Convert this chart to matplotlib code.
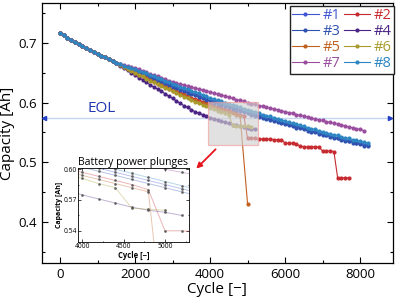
import numpy as np
import matplotlib
matplotlib.use("Agg")
import matplotlib.pyplot as plt
from matplotlib.patches import Rectangle

plt.rcParams['font.family'] = ['Open Sans', 'DejaVu Sans']

# ---------------- data (capacity in Ah, one point every 100 cycles) ----------------
CYCLE_STEP = 100

COMMON = [0.717, 0.713, 0.709, 0.705, 0.701, 0.698, 0.695, 0.691, 0.688, 0.685,
          0.682, 0.679, 0.676, 0.673, 0.670, 0.667]

S1_TAIL = [0.664, 0.661, 0.659, 0.656, 0.654, 0.651, 0.649, 0.646, 0.644, 0.641,
           0.639, 0.636, 0.634, 0.631, 0.629, 0.626, 0.624, 0.622, 0.619, 0.617,
           0.615, 0.612, 0.610, 0.608, 0.605, 0.603, 0.601, 0.599, 0.597, 0.595,
           0.593, 0.591, 0.589, 0.587, 0.585, 0.583, 0.581, 0.579, 0.577, 0.575,
           0.573, 0.572, 0.570, 0.568, 0.566, 0.564, 0.562, 0.561, 0.559, 0.557,
           0.555, 0.553, 0.552, 0.550, 0.548, 0.546, 0.545, 0.543, 0.541, 0.540,
           0.538, 0.536, 0.535, 0.533, 0.532, 0.530, 0.529]

S2_TAIL = [0.663, 0.660, 0.657, 0.654, 0.651, 0.648, 0.645, 0.642, 0.639, 0.636,
           0.633, 0.630, 0.628, 0.625, 0.622, 0.619, 0.617, 0.614, 0.611, 0.608,
           0.606, 0.604, 0.601, 0.599, 0.597, 0.595, 0.593, 0.591, 0.589, 0.587,
           0.585, 0.582, 0.580, 0.578,
           0.540, 0.540, 0.540, 0.539, 0.539, 0.539, 0.539, 0.538, 0.538, 0.538,
           0.532, 0.532, 0.532, 0.531,
           0.527, 0.526, 0.526, 0.526, 0.526, 0.525,
           0.519, 0.519, 0.519, 0.518,
           0.474, 0.474, 0.474, 0.474]

S3_TAIL = [0.663, 0.660, 0.658, 0.655, 0.652, 0.650, 0.647, 0.644, 0.642, 0.639,
           0.636, 0.634, 0.631, 0.629, 0.626, 0.624, 0.621, 0.619, 0.616, 0.614,
           0.612, 0.609, 0.607, 0.605, 0.602, 0.600, 0.598, 0.596, 0.594, 0.592,
           0.590, 0.588, 0.586, 0.584, 0.582, 0.580, 0.578, 0.576, 0.574, 0.573,
           0.571, 0.569, 0.567, 0.565, 0.564, 0.562, 0.560, 0.558, 0.557, 0.555,
           0.553, 0.551, 0.550, 0.548, 0.546, 0.545, 0.543, 0.541, 0.540, 0.538,
           0.536, 0.535, 0.533, 0.532, 0.530, 0.528, 0.527]

S4_TAIL = [0.661, 0.658, 0.654, 0.650, 0.646, 0.642, 0.638, 0.634, 0.630, 0.626,
           0.623, 0.619, 0.615, 0.611, 0.607, 0.603, 0.599, 0.595, 0.592, 0.588,
           0.585, 0.582, 0.580, 0.577, 0.575, 0.573, 0.571, 0.569, 0.567, 0.565,
           0.563, 0.562, 0.560, 0.559, 0.558, 0.556, 0.555]

S5_TAIL = [0.663, 0.660, 0.657, 0.654, 0.650, 0.647, 0.644, 0.641, 0.638, 0.635,
           0.632, 0.629, 0.626, 0.623, 0.620, 0.617, 0.614, 0.612, 0.609, 0.606,
           0.604, 0.601, 0.599, 0.597, 0.594, 0.592, 0.590, 0.588, 0.586, 0.584,
           0.582, 0.580, 0.578]
S5_PLUNGE_CYCLE = 5000
S5_PLUNGE_VALUE = 0.430

S6_TAIL = [0.663, 0.660, 0.657, 0.653, 0.650, 0.647, 0.644, 0.640, 0.637, 0.634,
           0.631, 0.628, 0.625, 0.622, 0.619, 0.616, 0.613, 0.610, 0.607, 0.604,
           0.601, 0.599, 0.596, 0.594, 0.591, 0.589, 0.586, 0.584, 0.582, 0.579,
           0.562, 0.561, 0.561, 0.560, 0.560, 0.559]

S7_TAIL = [0.665, 0.663, 0.661, 0.660, 0.658, 0.656, 0.653, 0.651, 0.648, 0.646,
           0.644, 0.642, 0.639, 0.637, 0.635, 0.633, 0.631, 0.630, 0.628, 0.626,
           0.624, 0.623, 0.621, 0.620, 0.618, 0.616, 0.614, 0.613, 0.611, 0.609,
           0.607, 0.605, 0.604, 0.602, 0.600, 0.598, 0.597, 0.595, 0.594, 0.592,
           0.591, 0.589, 0.588, 0.586, 0.585, 0.583, 0.582, 0.580, 0.579, 0.577,
           0.576, 0.574, 0.573, 0.571, 0.570, 0.568, 0.567, 0.565, 0.564, 0.562,
           0.561, 0.559, 0.558, 0.556, 0.555, 0.553]

S8_TAIL = [0.664, 0.662, 0.660, 0.658, 0.656, 0.653, 0.651, 0.649, 0.646, 0.644,
           0.642, 0.639, 0.637, 0.634, 0.632, 0.630, 0.627, 0.625, 0.623, 0.620,
           0.618, 0.616, 0.613, 0.611, 0.608, 0.606, 0.604, 0.602, 0.600, 0.598,
           0.596, 0.594, 0.592, 0.590, 0.588, 0.586, 0.584, 0.582, 0.580, 0.578,
           0.577, 0.575, 0.573, 0.571, 0.569, 0.567, 0.565, 0.564, 0.562, 0.560,
           0.558, 0.556, 0.555, 0.553, 0.551, 0.549, 0.548, 0.546, 0.545, 0.543,
           0.541, 0.540, 0.538, 0.537, 0.535, 0.534, 0.532]

LABELS = ['#1', '#2', '#3', '#4', '#5', '#6', '#7', '#8']
COLORS = ['#3f55d2', '#c62a2f', '#2f52b0', '#4a2384', '#c0601f', '#a99a2c', '#9a4d9e', '#2c86c2']
EOL_CAPACITY = 0.575
EOL_LABEL = 'EOL'

MAIN_XLIM = (-490, 8870)
MAIN_YLIM = (0.331, 0.767)
INSET_XLIM = (3950, 5290)
INSET_YLIM = (0.529, 0.601)

# ---------------- build series ----------------
tails = [S1_TAIL, S2_TAIL, S3_TAIL, S4_TAIL, S5_TAIL, S6_TAIL, S7_TAIL, S8_TAIL]
series = []
for i, tail in enumerate(tails):
    vals = np.array(COMMON + tail)
    cyc = np.arange(len(vals)) * CYCLE_STEP
    if LABELS[i] == '#5':
        cyc = np.append(cyc, S5_PLUNGE_CYCLE)
        vals = np.append(vals, S5_PLUNGE_VALUE)
    series.append((cyc, vals))

fig = plt.figure(figsize=(4.0, 3.03), dpi=100)
ax = fig.add_axes([0.104, 0.132, 0.878, 0.858])

handles = {}
for (cyc, vals), lab, col in zip(series, LABELS, COLORS):
    h, = ax.plot(cyc, vals, '-', color=col, lw=0.8, marker='o', ms=2.0,
                 mec=col, mfc=col, zorder=3)
    handles[lab] = h

ax.set_xlim(*MAIN_XLIM)
ax.set_ylim(*MAIN_YLIM)
ax.set_xticks([0, 2000, 4000, 6000, 8000])
ax.set_xticks(np.arange(1000, 8001, 2000), minor=True)
ax.set_yticks([0.4, 0.5, 0.6, 0.7])
ax.set_yticks([0.35, 0.45, 0.55, 0.65, 0.75], minor=True)
ax.set_yticklabels(['0.4', '0.5', '0.6', '0.7'])
ax.tick_params(which='both', direction='in', top=True, right=True, labelsize=9.5)
ax.tick_params(which='major', length=4, width=0.8)
ax.tick_params(which='minor', length=2, width=0.8)
for s in ax.spines.values():
    s.set_linewidth(0.9)
ax.set_xlabel('Cycle [\u2212]', fontsize=11, labelpad=1)
ax.set_ylabel('Capacity [Ah]', fontsize=11, labelpad=2)

# EOL line with arrows
ax.axhline(EOL_CAPACITY, color='#c5d6f2', lw=1.0, zorder=2)
ax.plot([0.008], [EOL_CAPACITY], marker='<', color='#2540c8', ms=3,
        transform=ax.get_yaxis_transform(), clip_on=False, zorder=4)
ax.plot([0.992], [EOL_CAPACITY], marker='>', color='#2540c8', ms=3,
        transform=ax.get_yaxis_transform(), clip_on=False, zorder=4)
ax.text(1100, EOL_CAPACITY + 0.002, EOL_LABEL, color='#2236b0', fontsize=11,
        ha='center', va='bottom', zorder=5)

# gray zoom rectangle
rect = Rectangle((INSET_XLIM[0], INSET_YLIM[0]), INSET_XLIM[1] - INSET_XLIM[0],
                 INSET_YLIM[1] - INSET_YLIM[0], facecolor='#d2d2d2', alpha=0.65,
                 edgecolor='#f29a9a', lw=0.9, zorder=4)
ax.add_patch(rect)

# red arrow
ax.annotate('', xy=(3580, 0.486), xytext=(4200, 0.525),
            arrowprops=dict(arrowstyle='-|>', color='#e8141c', lw=1.3,
                            mutation_scale=8), zorder=6)

# legend
order = ['#1', '#3', '#5', '#7', '#2', '#4', '#6', '#8']
leg = ax.legend([handles[k] for k in order], order, ncol=2, loc='upper right',
                bbox_to_anchor=(1.003, 0.99), fontsize=10.5, frameon=True,
                fancybox=False, framealpha=1, edgecolor='#222222',
                handlelength=1.8, handletextpad=0.25, columnspacing=0.25,
                labelspacing=0.08, borderpad=0.15, borderaxespad=0.0)
leg.get_frame().set_linewidth(1.0)
for txt, k in zip(leg.get_texts(), order):
    txt.set_color(COLORS[LABELS.index(k)])

# inset
axi = fig.add_axes([0.195, 0.201, 0.2775, 0.244])
for (cyc, vals), col in zip(series, COLORS):
    sel = (cyc % 200 == 0) & (cyc >= 3800) & (cyc <= 5400)
    axi.plot(cyc[sel], vals[sel], '-', color=col, lw=0.7, alpha=0.35)
    axi.plot(cyc[sel], vals[sel], 'o', color='#555555', ms=1.0, alpha=0.8)
axi.set_xlim(*INSET_XLIM)
axi.set_ylim(*INSET_YLIM)
axi.set_xticks([4000, 4500, 5000])
axi.set_xticks([4250, 4750, 5250], minor=True)
axi.set_yticks([0.54, 0.57, 0.60])
axi.set_yticks([0.555, 0.585], minor=True)
axi.set_yticklabels(['0.54', '0.57', '0.60'])
axi.tick_params(which='both', direction='in', top=True, right=True,
                labelsize=4.8, pad=1)
axi.tick_params(which='major', length=2, width=0.5)
axi.tick_params(which='minor', length=1, width=0.5)
for s in axi.spines.values():
    s.set_linewidth(0.6)
axi.set_title('Battery power plunges', fontsize=7.5, pad=1.5)
axi.set_xlabel('Cycle [\u2212]', fontsize=5.5, fontweight='bold', labelpad=0.5)
axi.set_ylabel('Capacity [Ah]', fontsize=5, fontweight='bold', labelpad=0.5)

fig.savefig('out.png', dpi=100)
